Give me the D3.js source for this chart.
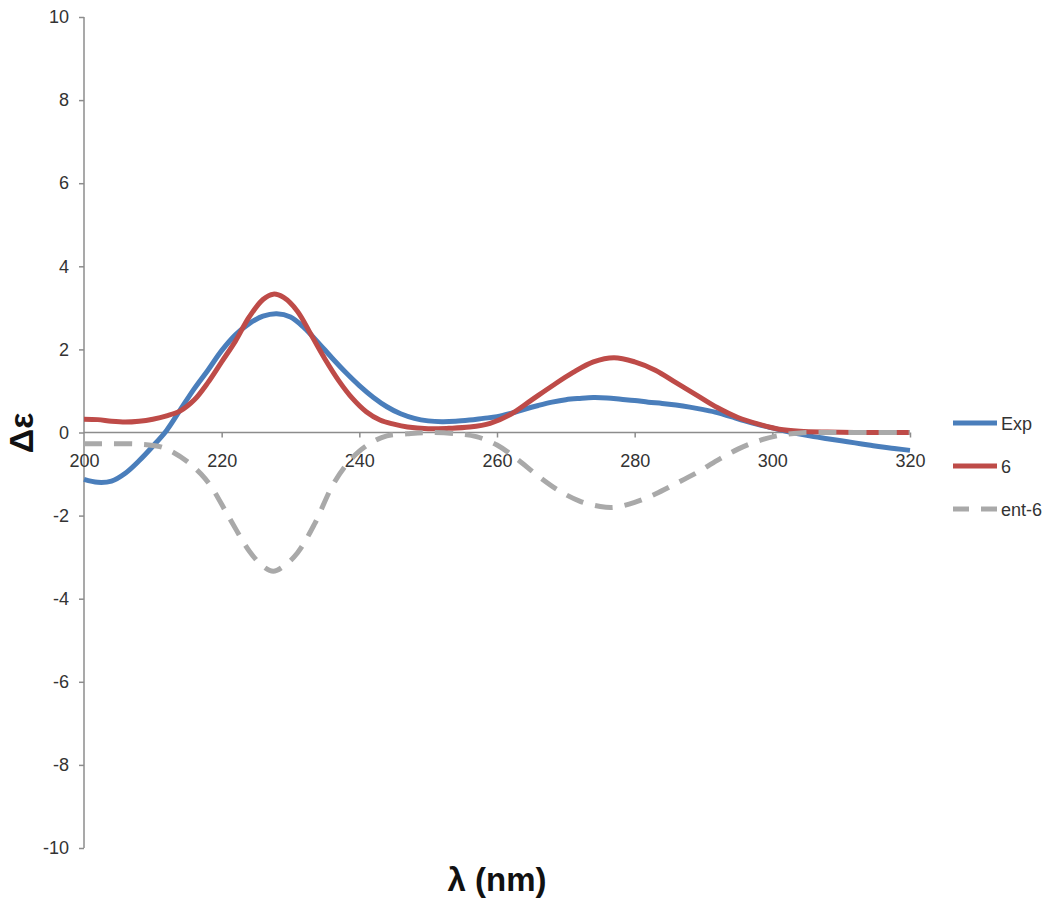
<!DOCTYPE html>
<html><head><meta charset="utf-8">
<script src="https://cdn.jsdelivr.net/npm/d3@7"></script>
<style>
html,body{margin:0;padding:0;background:#fff;}
svg{display:block;}
.tick text{font-family:"Liberation Sans Narrow","Arial Narrow","Liberation Sans",sans-serif;font-size:18px;fill:#333;}
</style></head>
<body><svg id="c" width="1050" height="913"></svg>
<script>
// wavelength (nm) and Δε values
const expX = [200,202,204,206,208,210,212,214,216,218,220,222,224,226,228,230,232,234,236,238,240,242,244,246,248,250,252,254,256,258,260,262,264,266,268,270,272,274,276,278,280,282,284,286,288,290,292,294,296,298,300,302,304,306,308,310,312,314,316,318,320];
const expY = [-1.13,-1.2,-1.17,-0.98,-0.68,-0.33,0.05,0.55,1.05,1.5,1.97,2.35,2.62,2.8,2.86,2.78,2.52,2.17,1.8,1.45,1.13,0.85,0.62,0.45,0.34,0.28,0.26,0.27,0.3,0.34,0.38,0.46,0.56,0.65,0.73,0.79,0.82,0.84,0.83,0.8,0.77,0.73,0.7,0.66,0.61,0.55,0.48,0.38,0.28,0.19,0.11,0.03,-0.04,-0.1,-0.15,-0.2,-0.25,-0.3,-0.35,-0.39,-0.43];

const sixX = [200,202,204,206,208,210,212,214,216,218,220,222,224,226,227.5,229,231,233,235,237,239,241,243,245,247,250,253,256,259,262,265,268,271,274,277,280,283,286,289,292,295,298,301,304,308,314,320];
const sixY = [0.32,0.31,0.27,0.25,0.27,0.32,0.4,0.52,0.78,1.2,1.7,2.2,2.78,3.2,3.33,3.25,2.92,2.35,1.77,1.25,0.82,0.5,0.3,0.2,0.13,0.09,0.1,0.13,0.22,0.44,0.78,1.12,1.44,1.7,1.8,1.7,1.5,1.2,0.9,0.6,0.36,0.2,0.08,0.03,0.01,0.0,0.0];

const entX = [200,204,208,211,213,215,217,218.5,221,224,226,227.5,229,231,233.5,236,238,240,242,244,247,250,254,257,260,263,266,269,272,275,277,280,283,286,289,292,295,298,301,304,310,320];
const entY = [-0.27,-0.27,-0.28,-0.34,-0.48,-0.7,-1.0,-1.31,-2.02,-2.85,-3.22,-3.34,-3.22,-2.9,-2.2,-1.31,-0.8,-0.45,-0.22,-0.08,-0.03,0.0,-0.03,-0.1,-0.3,-0.65,-1.05,-1.4,-1.65,-1.78,-1.8,-1.68,-1.48,-1.23,-0.97,-0.67,-0.4,-0.2,-0.07,-0.01,0,0];

const xTicks = [200,220,240,260,280,300,320];
const yTicks = [-10,-8,-6,-4,-2,0,2,4,6,8,10];

const seriesNames = ["Exp","6","ent-6"];
const colors = ["#4a7ebb","#be4b48","#a9a9a9"];

const svg = d3.select("#c");
const x = d3.scaleLinear().domain([200,320]).range([84,910]);
const y = d3.scaleLinear().domain([-10,10]).range([848,17]);
const axisColor = "#8c8c8c";

// y axis
const yAxis = svg.append("g").attr("transform","translate(84,0)")
  .call(d3.axisLeft(y).tickValues(yTicks).tickSize(5).tickPadding(10).tickFormat(d=>String(d)));
yAxis.select(".domain").attr("stroke",axisColor).attr("stroke-width",1.5).attr("d","M0,"+y(10)+"V"+y(-10));
yAxis.selectAll(".tick line").attr("stroke",axisColor).attr("stroke-width",1.5);

// x axis at zero
const xAxis = svg.append("g").attr("transform","translate(0,"+y(0)+")")
  .call(d3.axisBottom(x).tickValues(xTicks).tickSize(5).tickPadding(17).tickFormat(d=>String(d)));
xAxis.select(".domain").attr("stroke",axisColor).attr("stroke-width",1.5).attr("d","M"+x(200)+",0H"+x(320));
xAxis.selectAll(".tick line").attr("stroke",axisColor).attr("stroke-width",1.5);
xAxis.selectAll(".tick").filter(d=>d===200).select("line").remove();

const line = d3.line().x(d=>x(d[0])).y(d=>y(d[1])).curve(d3.curveCatmullRom.alpha(0.5));
const data = [d3.zip(expX,expY), d3.zip(sixX,sixY), d3.zip(entX,entY)];

data.forEach((s,i)=>{
  svg.append("path").datum(s).attr("d",line)
    .attr("fill","none").attr("stroke",colors[i]).attr("stroke-width",5)
    .attr("stroke-linejoin","round")
    .attr("stroke-dasharray", i===2 ? "18,12" : null);
});

// legend
const legY = [423,466,509];
seriesNames.forEach((n,i)=>{
  svg.append("line").attr("x1",953).attr("x2",997).attr("y1",legY[i]).attr("y2",legY[i])
    .attr("stroke",colors[i]).attr("stroke-width",5)
    .attr("stroke-dasharray", i===2 ? "16,12" : null);
  svg.append("text").attr("x",1001).attr("y",legY[i]+7).text(n)
    .attr("font-family",'"Liberation Sans Narrow","Arial Narrow",sans-serif')
    .attr("font-size",18).attr("fill","#333");
});

// axis titles
svg.append("text").attr("x",497).attr("y",891).attr("text-anchor","middle")
  .attr("font-family",'"Liberation Sans","Arial",sans-serif').attr("font-weight","bold")
  .attr("font-size",33).attr("fill","#111").text("λ (nm)");
svg.append("text").attr("transform","translate(33,433) rotate(-90)").attr("text-anchor","middle")
  .attr("font-family",'"Liberation Sans","Arial",sans-serif').attr("font-weight","bold")
  .attr("font-size",34).attr("fill","#111").text("Δε");
</script></body></html>
